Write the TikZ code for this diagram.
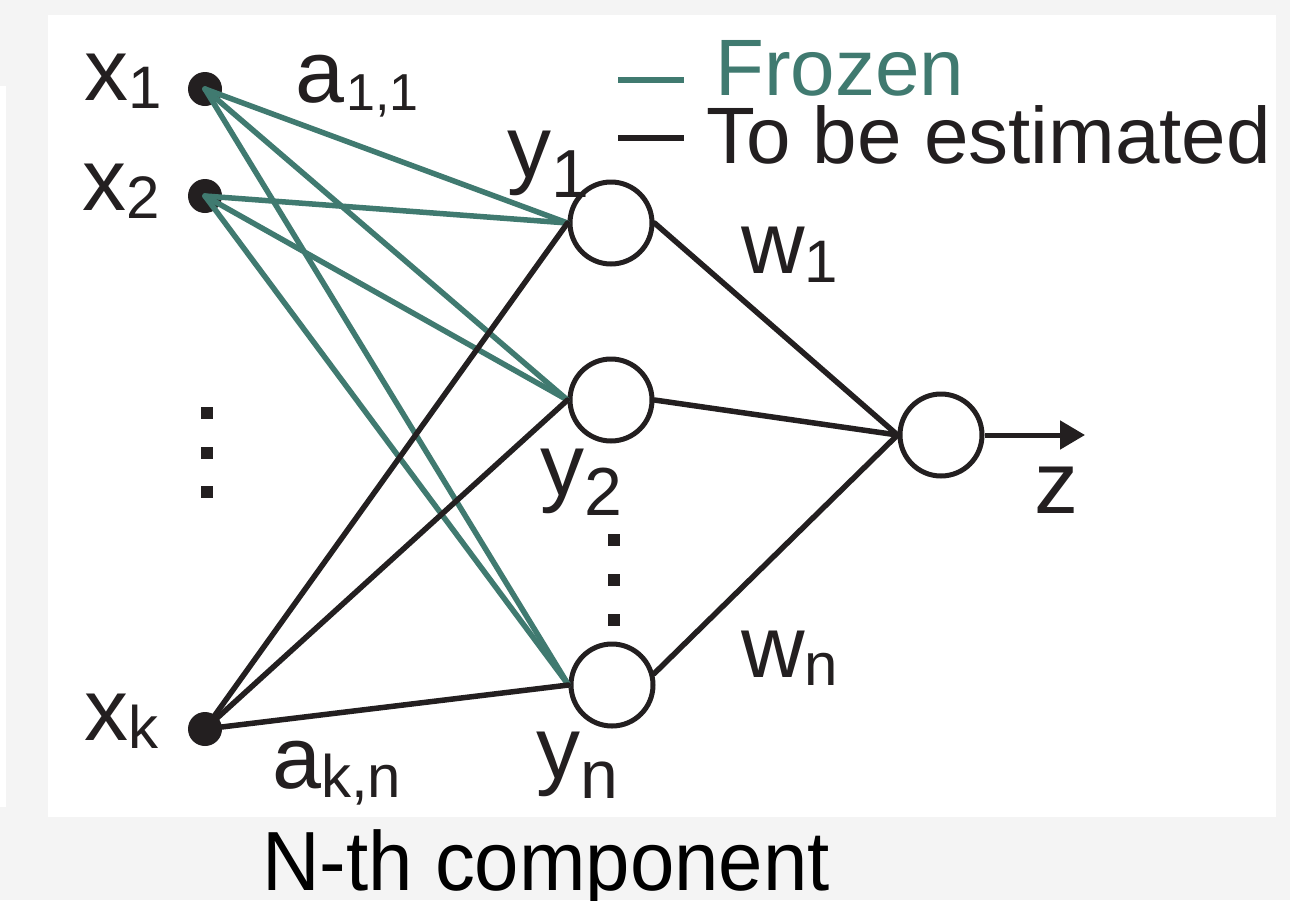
\documentclass[tikz,border=0pt]{standalone}
\usepackage{fontspec}
\setmainfont{Liberation Sans}
\newfontfamily\captionfont[FakeStretch=0.95]{Liberation Sans}
\usetikzlibrary{arrows.meta}
\definecolor{frozen}{RGB}{64,122,112}
\definecolor{ink}{RGB}{35,31,32}
\definecolor{pagegray}{RGB}{244,244,244}
\newcommand\bigsz{\fontsize{88}{88}\selectfont}
\newcommand\subsz{\fontsize{60}{60}\selectfont}
\newcommand\ysubsz{\fontsize{68}{68}\selectfont}
\newcommand\asubsz{\fontsize{52}{52}\selectfont}
\begin{document}
\begin{tikzpicture}[x=1pt,y=-1pt,
  inputdot/.style={circle,fill=ink,inner sep=0pt,minimum size=34pt},
  unit/.style={circle,draw=ink,line width=5pt,fill=white,inner sep=0pt,minimum size=82pt},
  frozenedge/.style={draw=frozen,line width=5.5pt,line cap=round},
  activeedge/.style={draw=ink,line width=5.5pt,line cap=round},
  lbl/.style={inner sep=0pt,anchor=base west,text=ink,font=\bigsz},
  legendtxt/.style={inner sep=0pt,anchor=base west,font=\fontsize{80}{80}\selectfont},
  ellipsisdot/.style={fill=ink,inner sep=0pt,minimum size=12pt,rectangle}]

% page and panel
\fill[pagegray] (0,0) rectangle (1290,900);
\useasboundingbox (0,0) rectangle (1290,900);
\fill[white] (48,15) rectangle (1276,817);
\fill[white] (0,86) rectangle (6,807);

% inputs
\node[inputdot] (x1) at (205,89) {};
\node[inputdot] (x2) at (205,196) {};
\node[inputdot] (xk) at (205,729) {};

% hidden units and output unit
\node[unit] (h1) at (611,223) {};
\node[unit] (h2) at (611,400) {};
\node[unit] (hn) at (612,685) {};
\node[unit] (out) at (941,435) {};
\coordinate (zend) at (1085,435);

% frozen weights
\foreach \s in {x1,x2}
  \foreach \t in {h1,h2,hn}
    \draw[frozenedge] (\s.center) -- (\t.west);

% weights to be estimated
\foreach \t in {h1,h2,hn}
  \draw[activeedge] (xk.center) -- (\t.west);
\draw[activeedge] (h1.east) -- (out.west);
\draw[activeedge] (h2.east) -- (out.west);
\draw[activeedge] (hn.15) -- (out.west);
\draw[draw=ink,line width=5pt,-{Triangle[length=25pt,width=28pt]}] (out.east) -- (zend);

% ellipses
\foreach \y in {413,453,492} \node[ellipsisdot] at (207,\y) {};
\foreach \y in {540,580,620} \node[ellipsisdot] at (614,\y) {};

% labels
\node[lbl] (lx1) at (84,100) {x\raisebox{-8pt}{\subsz 1}};
\node[lbl] (lx2) at (82,210) {x\raisebox{-8pt}{\subsz 2}};
\node[lbl] (lxk) at (84,740) {x\raisebox{-8pt}{\subsz k}};
\node[lbl] (la11) at (295,102) {a\hspace{2pt}\raisebox{-8pt}{\asubsz 1,1}};
\node[lbl] (lakn) at (272,788) {a\raisebox{-9pt}{\subsz k,n}};
\node[lbl] (ly1) at (507,177) {y\raisebox{-20pt}{\ysubsz 1}};
\node[lbl] (ly2) at (540,495) {y\raisebox{-20pt}{\ysubsz 2}};
\node[lbl] (lyn) at (536,778) {y\raisebox{-20pt}{\ysubsz n}};
\node[lbl] (lw1) at (741,273) {w\raisebox{-9pt}{\subsz 1}};
\node[lbl] (lwn) at (741,677) {w\raisebox{-8pt}{\subsz n}};
\node[lbl] (lz) at (1034,513) {z};

% legend
\draw[draw=frozen,line width=6pt] (618,80) -- (684,80);
\draw[draw=ink,line width=6pt] (618,138) -- (684,138);
\node[legendtxt,text=frozen] (lfrozen) at (715,95) {Frozen};
\node[legendtxt,text=ink] (lest) at (706,163) {To be estimated};

% caption
\node[inner sep=0pt,anchor=base west,text=black,font=\captionfont\fontsize{84}{84}\selectfont] (caption) at (262,890) {N-th component};
\end{tikzpicture}
\end{document}
